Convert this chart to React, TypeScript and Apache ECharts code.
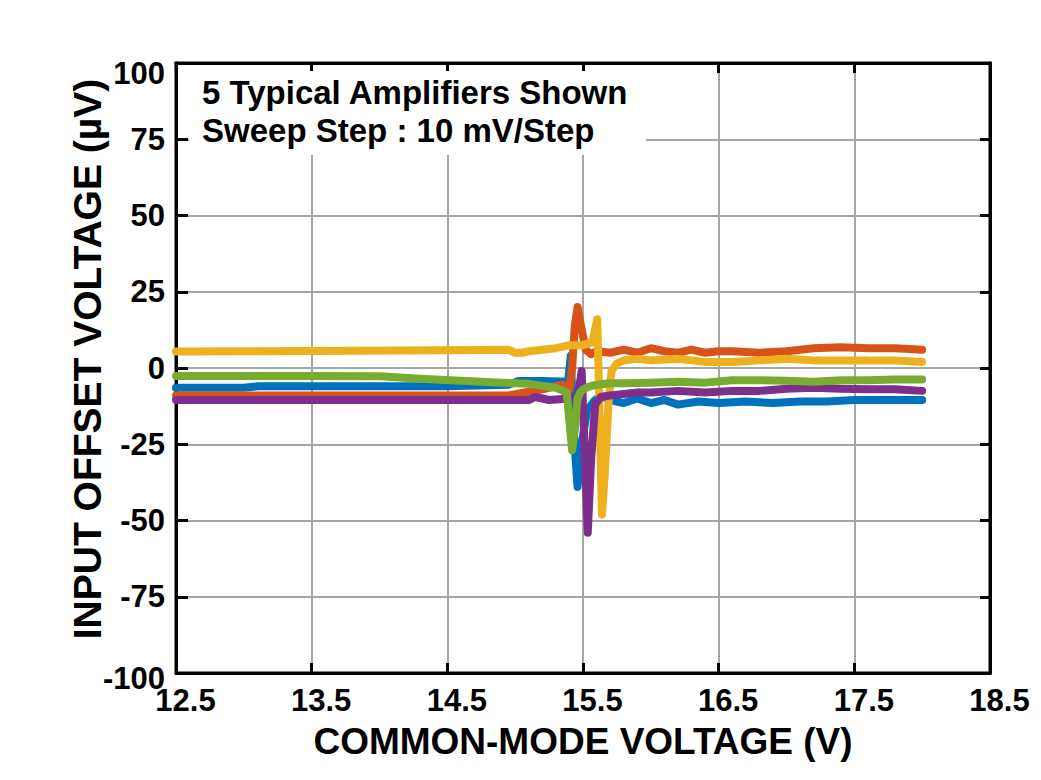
import React, { useEffect, useRef } from "react";
import * as echarts from "echarts";

// Axis ticks
const X_TICKS = [12.5, 13.5, 14.5, 15.5, 16.5, 17.5, 18.5];
const Y_TICKS = [-100, -75, -50, -25, 0, 25, 50, 75, 100];

const X_NAME = "COMMON-MODE VOLTAGE (V)";
const Y_NAME = "INPUT OFFSET VOLTAGE (µV)";
const NOTE_LINES = ["5 Typical Amplifiers Shown", "Sweep Step : 10 mV/Step"];

// Amplifier 1 (blue)
const blueX = [12.5, 13.0, 13.1, 14.0, 14.5, 14.95, 15.02, 15.2, 15.39, 15.41, 15.43, 15.46, 15.49, 15.53, 15.58, 15.63, 15.7, 15.8, 15.9, 16.0, 16.1, 16.2, 16.35, 16.5, 16.7, 16.9, 17.1, 17.3, 17.5, 17.7, 18.0];
const blueY = [-6.5, -6.5, -6.0, -6.0, -6.0, -5.5, -4.3, -4.3, -4.5, 4, -20, -39, -25, -14, -11, -9, -10.5, -11.5, -10, -11.5, -10.5, -12, -11, -11.5, -11, -11.5, -11, -11, -10.5, -10.5, -10.5];

// Amplifier 2 (orange)
const orangeX = [12.5, 13.5, 14.5, 14.95, 15.05, 15.2, 15.35, 15.4, 15.42, 15.44, 15.46, 15.48, 15.52, 15.56, 15.6, 15.7, 15.8, 15.9, 16.0, 16.1, 16.2, 16.3, 16.4, 16.5, 16.6, 16.8, 17.0, 17.2, 17.4, 17.6, 17.8, 18.0];
const orangeY = [-9, -9, -9, -9, -8.2, -7, -5.5, -7, 0, 14, 20, 15, 6, 4.5, 5.5, 5, 6, 5, 6.5, 5.5, 5, 6, 5, 5.5, 5.5, 5, 5.5, 6.5, 6.8, 6.5, 6.5, 6];

// Amplifier 3 (yellow)
const yellowX = [12.5, 13.5, 14.5, 14.95, 15.0, 15.05, 15.1, 15.2, 15.3, 15.4, 15.5, 15.57, 15.605, 15.625, 15.64, 15.66, 15.69, 15.71, 15.75, 15.8, 15.9, 16.0, 16.2, 16.4, 16.6, 16.8, 17.0, 17.2, 17.5, 17.8, 18.0];
const yellowY = [5.4, 5.6, 5.8, 6.0, 5.0, 5.0, 5.5, 6, 6.5, 7.5, 7.5, 8.5, 16, -20, -48, -35, -10, -1, 1.5, 2.5, 3, 2.5, 3, 2, 2, 2.5, 3, 2.5, 2.5, 2.5, 2.0];

// Amplifier 4 (purple)
const purpleX = [12.5, 13.5, 14.5, 15.0, 15.1, 15.15, 15.25, 15.4, 15.46, 15.49, 15.515, 15.535, 15.56, 15.59, 15.63, 15.7, 15.8, 15.9, 16.0, 16.2, 16.4, 16.6, 16.8, 17.0, 17.2, 17.4, 17.6, 17.8, 18.0];
const purpleY = [-10.5, -10.5, -10.5, -10.5, -10.5, -9.5, -10.5, -10, -10, -1, -30, -54, -30, -12, -9.5, -9, -8.5, -8, -8, -7.5, -8, -7.5, -7.5, -6.8, -6.5, -6.8, -7, -7, -7.5];

// Amplifier 5 (green)
const greenX = [12.5, 13.0, 13.5, 14.0, 14.3, 14.6, 14.9, 15.1, 15.3, 15.38, 15.42, 15.44, 15.46, 15.48, 15.5, 15.55, 15.6, 15.7, 15.8, 16.0, 16.2, 16.4, 16.6, 16.8, 17.0, 17.2, 17.4, 17.6, 17.8, 18.0];
const greenY = [-2.6, -2.6, -2.6, -2.7, -3.5, -4.2, -4.8, -5.2, -6.5, -8, -27, -20, -10, -8, -7, -6, -5.5, -5, -5, -4.8, -4.5, -4.8, -4, -4, -4.2, -4.5, -4, -4, -3.8, -3.8];

const SERIES = [
  { name: "Amp 1", color: "#0072BD", xs: blueX, ys: blueY },
  { name: "Amp 2", color: "#D95319", xs: orangeX, ys: orangeY },
  { name: "Amp 3", color: "#EDB120", xs: yellowX, ys: yellowY },
  { name: "Amp 4", color: "#7E2F8E", xs: purpleX, ys: purpleY },
  { name: "Amp 5", color: "#77AC30", xs: greenX, ys: greenY },
];

const FONT = '"Liberation Sans", Arial, Helvetica, sans-serif';

export default function App() {
  const ref = useRef<HTMLDivElement>(null);

  useEffect(() => {
    const chart = echarts.init(ref.current!, null, { renderer: "svg" });
    const xMin = X_TICKS[0];
    const xMax = X_TICKS[X_TICKS.length - 1];
    const xInt = X_TICKS[1] - X_TICKS[0];
    const yMin = Y_TICKS[0];
    const yMax = Y_TICKS[Y_TICKS.length - 1];
    const yInt = Y_TICKS[1] - Y_TICKS[0];

    const labelStyle = { fontFamily: FONT, fontWeight: "bold" as const, fontSize: 31, color: "#000" };

    const option: any = {
      animation: false,
      backgroundColor: "#fff",
      grid: {
        left: 176,
        right: 51,
        top: 63,
        bottom: 107,
        show: true,
        borderColor: "#000",
        borderWidth: 3,
        backgroundColor: "rgba(0,0,0,0)",
      },
      xAxis: [
        {
          type: "value",
          min: xMin,
          max: xMax,
          interval: xInt,
          name: X_NAME,
          nameLocation: "middle",
          nameGap: 50,
          nameTextStyle: { fontFamily: FONT, fontWeight: "bold", fontSize: 37, color: "#000" },
          axisLine: { show: true, onZero: false, lineStyle: { color: "#000", width: 3 } },
          axisTick: { show: true, inside: true, length: 10, lineStyle: { color: "#000", width: 3 } },
          axisLabel: {
            ...labelStyle,
            margin: 12,
            formatter: (v: number) => `{x|${v.toFixed(1)}}`,
            rich: { x: { ...labelStyle, padding: [0, 0, 0, 19] } },
          },
          splitLine: { show: true, lineStyle: { color: "#A6A6A6", width: 2 } },
        },
        {
          type: "value",
          position: "top",
          min: xMin,
          max: xMax,
          interval: xInt,
          axisLine: { show: true, onZero: false, lineStyle: { color: "#000", width: 3 } },
          axisTick: { show: true, inside: true, length: 10, lineStyle: { color: "#000", width: 3 } },
          axisLabel: { show: false },
          splitLine: { show: false },
        },
      ],
      yAxis: [
        {
          type: "value",
          min: yMin,
          max: yMax,
          interval: yInt,
          name: Y_NAME,
          nameLocation: "middle",
          nameGap: 69,
          nameMoveOverlap: false,
          nameTextStyle: {
            fontFamily: FONT,
            fontWeight: "bold",
            fontSize: 39,
            color: "#000",
            padding: [0, 0, 0, 18],
          },
          axisLine: { show: true, onZero: false, lineStyle: { color: "#000", width: 3 } },
          axisTick: { show: true, inside: true, length: 12, lineStyle: { color: "#000", width: 3 } },
          axisLabel: {
            ...labelStyle,
            margin: 11,
            formatter: (v: number) =>
              v === yMax ? `{t|${v}}` : v === yMin ? `{b|${v}}` : `{n|${v}}`,
            rich: {
              t: { ...labelStyle, padding: [20, 0, 0, 0] },
              b: { ...labelStyle, padding: [11, 0, 0, 0] },
              n: { ...labelStyle },
            },
          },
          splitLine: { show: true, lineStyle: { color: "#A6A6A6", width: 2 } },
        },
        {
          type: "value",
          position: "right",
          min: yMin,
          max: yMax,
          interval: yInt,
          axisLine: { show: true, onZero: false, lineStyle: { color: "#000", width: 3 } },
          axisTick: { show: true, inside: true, length: 10, lineStyle: { color: "#000", width: 3 } },
          axisLabel: { show: false },
          splitLine: { show: false },
        },
      ],
      series: SERIES.map((s) => ({
        name: s.name,
        type: "line",
        xAxisIndex: 0,
        yAxisIndex: 0,
        showSymbol: false,
        symbol: "none",
        lineStyle: { color: s.color, width: 8, cap: "round", join: "round" },
        itemStyle: { color: s.color },
        data: s.xs.map((x, i) => [x, s.ys[i]]),
        z: 3,
      })),
      graphic: [
        {
          type: "rect",
          z: 100,
          shape: { x: 189, y: 71, width: 457, height: 84 },
          style: { fill: "#fff" },
        },
        {
          type: "text",
          z: 101,
          x: 202,
          y: 92,
          style: {
            text: NOTE_LINES[0],
            font: `bold 33px ${FONT}`,
            fill: "#000",
            verticalAlign: "middle",
            align: "left",
          },
        },
        {
          type: "text",
          z: 101,
          x: 202,
          y: 130,
          style: {
            text: NOTE_LINES[1],
            font: `bold 33px ${FONT}`,
            fill: "#000",
            verticalAlign: "middle",
            align: "left",
          },
        },
      ],
    };

    chart.setOption(option);
    return () => chart.dispose();
  }, []);

  return (
    <div
      ref={ref}
      style={{ position: "fixed", left: 0, top: 0, width: 1041, height: 780, background: "#fff" }}
    />
  );
}
